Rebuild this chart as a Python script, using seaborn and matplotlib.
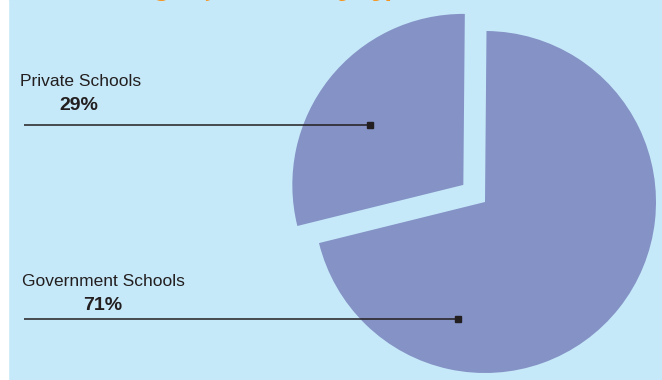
import matplotlib
matplotlib.use("Agg")
import matplotlib.pyplot as plt
from matplotlib.patches import Rectangle
import seaborn as sns

# chart data
labels = ["Private Schools", "Government Schools"]
shares = [29, 71]
pct_labels = ["29%", "71%"]
explode = [27.6, 0]   # pie() uses data units here, radius is 171

bg = "#C6E9F9"
pie_color = "#8492C6"
line_color = "#231F20"
title_color = "#F7941D"

sns.set_theme(style="white")
plt.rcParams['font.family'] = ['Liberation Sans', 'DejaVu Sans']

W, H = 662, 380
fig = plt.figure(figsize=(W / 100, H / 100), dpi=100)
fig.patch.set_facecolor(bg)
fig.add_artist(Rectangle((0, 0), 8 / W, 1, transform=fig.transFigure,
                         color="white", zorder=0))

# axes in pixel-like units, y up
ax = fig.add_axes([8 / W, 0, (W - 8) / W, 1])
wedges, _ = ax.pie(shares, explode=explode, startangle=89.5, counterclock=True,
                   center=(485, 178), radius=171,
                   colors=[pie_color] * len(shares),
                   wedgeprops=dict(linewidth=0))
ax.set_xlim(8, W)
ax.set_ylim(0, H)
ax.set_aspect("equal")
ax.axis("off")

# leader lines: (text x, label y, pct x, pct y, line y, marker x)
label_pos = [(20, 298, 79, 275, 255.5, 370),
             (22, 98.5, 103, 75, 61.5, 458)]

for lab, pct, (tx, ty, px, py, ly, mx) in zip(labels, pct_labels, label_pos):
    ax.text(tx, ty, lab, fontsize=12.5, color="#231F20", va="center", ha="left")
    ax.text(px, py, pct, fontsize=14, fontweight="bold", color="#231F20",
            va="center", ha="center")
    ax.plot([24, mx], [ly, ly], color=line_color, lw=1.1, solid_capstyle="butt")
    ax.plot([mx], [ly], marker="s", ms=4.5, color=line_color)

# title, cut off by the top edge like in the source
fig.text(51 / W, 1 + 3.5 / H, "Percentage of Schools by Type", fontsize=15.5,
         family="DejaVu Serif", style="italic", fontweight="bold",
         color=title_color, va="baseline", ha="left")

fig.savefig("out.png", dpi=100, facecolor=fig.get_facecolor())
